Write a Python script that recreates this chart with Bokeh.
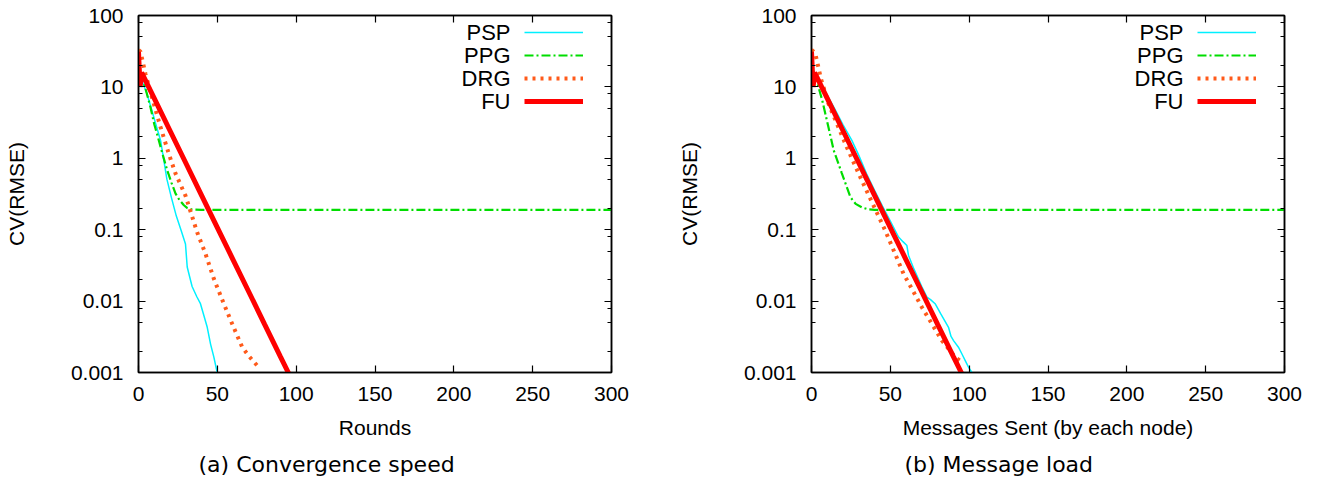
from bokeh.plotting import figure
from bokeh.models import (Range1d, FixedTicker, CustomJSTickFormatter, LinearAxis, LogAxis,
                          Legend, LegendItem, Label, Title)
from bokeh.layouts import row
from bokeh.embed import file_html
from bokeh.resources import INLINE

# ---------------- data ----------------
SERIES = ["PSP", "PPG", "DRG", "FU"]
X_TICKS = [0, 50, 100, 150, 200, 250, 300]
Y_TICKS = [0.001, 0.01, 0.1, 1, 10, 100]
Y_TICK_LABELS = ["0.001", "0.01", "0.1", "1", "10", "100"]
Y_MINOR = [0.002, 0.005, 0.008, 0.02, 0.05, 0.08, 0.2, 0.5, 0.8,
           2, 5, 8, 20, 50, 80]

# (a) Convergence speed: x = rounds
a_psp_x = [0, 1, 3, 5, 8, 11, 14, 16, 18, 21, 24, 27, 29.8, 30.9, 32, 34, 37, 39.3, 41,
           43.6, 45.7, 47.8, 49.9, 51]
a_psp_y = [20, 16, 11, 8.5, 5.1, 3.0, 1.78, 0.96, 0.51, 0.275, 0.155, 0.098, 0.063, 0.030,
           0.024, 0.016, 0.0115, 0.0092, 0.0068, 0.0043, 0.0025, 0.00164, 0.001, 0.0009]
a_ppg_x = [0, 2.3, 5, 7.6, 10, 12.9, 15, 18.2, 21, 23.5, 26, 28.8, 31, 34, 40, 300]
a_ppg_y = [15, 13.7, 8.5, 5.2, 3.0, 1.78, 1.2, 0.68, 0.45, 0.32, 0.26, 0.22, 0.2, 0.192,
           0.19, 0.19]
a_drg_x = [0, 1.3, 4.4, 9.7, 14, 19.2, 23.5, 29.8, 37.2, 42.5, 47.8, 54.1, 59.4, 65.8,
           70, 75.3]
a_drg_y = [33, 31, 15.2, 5.8, 2.73, 1.16, 0.61, 0.30, 0.092, 0.046, 0.0205, 0.0092, 0.0048,
           0.00226, 0.0017, 0.00125]
a_fu_x = [0, 1, 2, 10, 20, 30, 40, 50, 60, 70, 80, 90, 95, 96]
a_fu_y = [31, 10, 15.8, 6.9, 2.43, 0.86, 0.303, 0.107, 0.0379, 0.0134, 0.00472, 0.00167,
          0.001, 0.0009]

# (b) Message load: x = messages sent by each node
b_psp_x = [0, 5, 10, 15, 20, 25.6, 30, 35, 40, 45, 50, 55.2, 58, 60.5, 61.5, 65, 70, 73.2,
           75.5, 78.4, 82, 86.9, 88.5, 90.1, 93.2, 95.5, 97.5, 99.5, 101.7, 103]
b_psp_y = [19, 12, 7.6, 4.8, 2.95, 1.78, 1.1, 0.6, 0.355, 0.214, 0.132, 0.079, 0.068, 0.060,
           0.044, 0.028, 0.0158, 0.0114, 0.0105, 0.0092, 0.0066, 0.0043, 0.0032, 0.0028,
           0.00226, 0.0018, 0.00147, 0.0012, 0.001, 0.0009]
b_ppg_x = [0, 3.4, 6.8, 10.8, 14.1, 19.2, 24.7, 28, 32.2, 36, 40, 300]
b_ppg_y = [15, 12, 6.5, 2.7, 1.29, 0.62, 0.285, 0.23, 0.204, 0.193, 0.19, 0.19]
b_drg_x = [0, 2.3, 6, 10.8, 16, 22.4, 27, 31.9, 39, 46.7, 52, 58.4, 64, 70, 76, 82.7, 87,
           91.1, 95.4]
b_drg_y = [33, 30, 13, 5.8, 3.1, 1.43, 0.85, 0.49, 0.226, 0.098, 0.052, 0.024, 0.0144,
           0.0082, 0.00495, 0.0028, 0.00214, 0.00164, 0.0014]
b_fu_x = [0, 1, 2, 10, 20, 30, 40, 50, 60, 70, 80, 90, 95, 96]
b_fu_y = [31, 10, 15.8, 6.9, 2.43, 0.86, 0.303, 0.107, 0.0379, 0.0134, 0.00472, 0.00167,
          0.001, 0.0009]

# ---------------- styles ----------------
STYLE = {
    "PSP": dict(line_color="#00f0ff", line_width=1.5, line_dash="solid"),
    "PPG": dict(line_color="#00dd00", line_width=2.2, line_dash="9 3 2 3"),
    "DRG": dict(line_color="#ff5a1a", line_width=4, line_dash="3 5"),
    "FU": dict(line_color="#ff0000", line_width=5, line_dash="solid"),
}
TICK_FONT = "Liberation Sans"
CAP_FONT = "DejaVu Sans"

fmt_code = """
for (let i = 0; i < tvals.length; i++) {
  if (Math.abs(tick / tvals[i] - 1) < 1e-6) return tlabels[i];
}
return "";
"""


def style_axis(ax, show_labels):
    ax.axis_line_color = "black"
    ax.axis_line_width = 1.5
    ax.major_tick_in = 7
    ax.major_tick_out = 0
    ax.minor_tick_in = 4
    ax.minor_tick_out = 0
    ax.major_tick_line_color = "black"
    ax.minor_tick_line_color = "black"
    ax.major_tick_line_width = 1.2
    ax.minor_tick_line_width = 1.2
    if show_labels:
        ax.major_label_text_font = TICK_FONT
        ax.major_label_text_font_size = "21px"
        ax.major_label_text_color = "black"
    else:
        ax.major_label_text_font_size = "2px"
        ax.major_label_text_color = None
        ax.major_label_standoff = 0


def make_panel(width, left, right, xlabel, caption, cap_offset, data):
    p = figure(width=width, height=486, x_range=Range1d(0, 300),
               y_range=Range1d(0.001, 100), y_axis_type="log",
               output_backend="svg", toolbar_location=None,
               min_border_left=left, min_border_right=right,
               min_border_top=15, min_border_bottom=114)
    p.grid.visible = False
    p.outline_line_color = "black"
    p.outline_line_width = 1.5
    p.background_fill_color = "white"
    p.border_fill_color = "white"

    xt = FixedTicker(ticks=X_TICKS, minor_ticks=[])
    yt = FixedTicker(ticks=Y_TICKS, minor_ticks=Y_MINOR)
    yf = CustomJSTickFormatter(args=dict(tvals=Y_TICKS, tlabels=Y_TICK_LABELS), code=fmt_code)

    xa = p.xaxis[0]
    xa.ticker = xt
    style_axis(xa, True)
    xa.major_label_standoff = 14
    xa.axis_label = xlabel
    xa.axis_label_text_font = TICK_FONT
    xa.axis_label_text_font_size = "21px"
    xa.axis_label_text_font_style = "normal"
    xa.axis_label_text_color = "black"
    xa.axis_label_standoff = 12

    ya = p.yaxis[0]
    ya.ticker = yt
    ya.formatter = yf
    style_axis(ya, True)
    ya.major_label_standoff = 15
    ya.axis_label = "CV(RMSE)"
    ya.axis_label_text_font = TICK_FONT
    ya.axis_label_text_font_size = "21px"
    ya.axis_label_text_font_style = "normal"
    ya.axis_label_text_color = "black"
    ya.axis_label_standoff = 40

    top = LinearAxis(ticker=FixedTicker(ticks=X_TICKS, minor_ticks=[]))
    style_axis(top, False)
    p.add_layout(top, "above")
    rgt = LogAxis(ticker=FixedTicker(ticks=Y_TICKS, minor_ticks=Y_MINOR))
    style_axis(rgt, False)
    p.add_layout(rgt, "right")

    items = []
    for name in SERIES:
        xs, ys = data[name]
        r = p.line(xs, ys, **STYLE[name])
        items.append(LegendItem(label=name, renderers=[r]))

    glyph_h = 22
    gap = 1
    leg_top = 351
    leg_h = len(SERIES) * glyph_h + (len(SERIES) - 1) * gap
    leg = Legend(items=items, location=(386, leg_top - leg_h), glyph_width=59,
                 glyph_height=glyph_h, label_height=glyph_h, label_width=1, label_standoff=0,
                 spacing=gap, padding=0, margin=0, border_line_color=None,
                 background_fill_alpha=0, label_text_font_size="2px", label_text_color=None)
    p.add_layout(leg)
    for i, name in enumerate(SERIES):
        yc = leg_top - (i * (glyph_h + gap) + glyph_h / 2)
        p.add_layout(Label(x=372, y=yc, x_units="screen", y_units="screen", text=name,
                           text_align="right", text_baseline="middle",
                           text_font=TICK_FONT, text_font_size="22px", text_color="black"))

    p.add_layout(Title(text=caption, align="left", offset=cap_offset, standoff=16,
                       text_font=CAP_FONT, text_font_size="22px", text_font_style="normal",
                       text_color="black"), "below")
    return p


pa = make_panel(661, 138, 50, "Rounds", "(a) Convergence speed", 60,
                {"PSP": (a_psp_x, a_psp_y), "PPG": (a_ppg_x, a_ppg_y),
                 "DRG": (a_drg_x, a_drg_y), "FU": (a_fu_x, a_fu_y)})
pb = make_panel(661, 150, 38, "Messages Sent (by each node)", "(b) Message load", 93,
                {"PSP": (b_psp_x, b_psp_y), "PPG": (b_ppg_x, b_ppg_y),
                 "DRG": (b_drg_x, b_drg_y), "FU": (b_fu_x, b_fu_y)})

layout = row(pa, pb)
open("out.html", "w").write(file_html(layout, INLINE))
